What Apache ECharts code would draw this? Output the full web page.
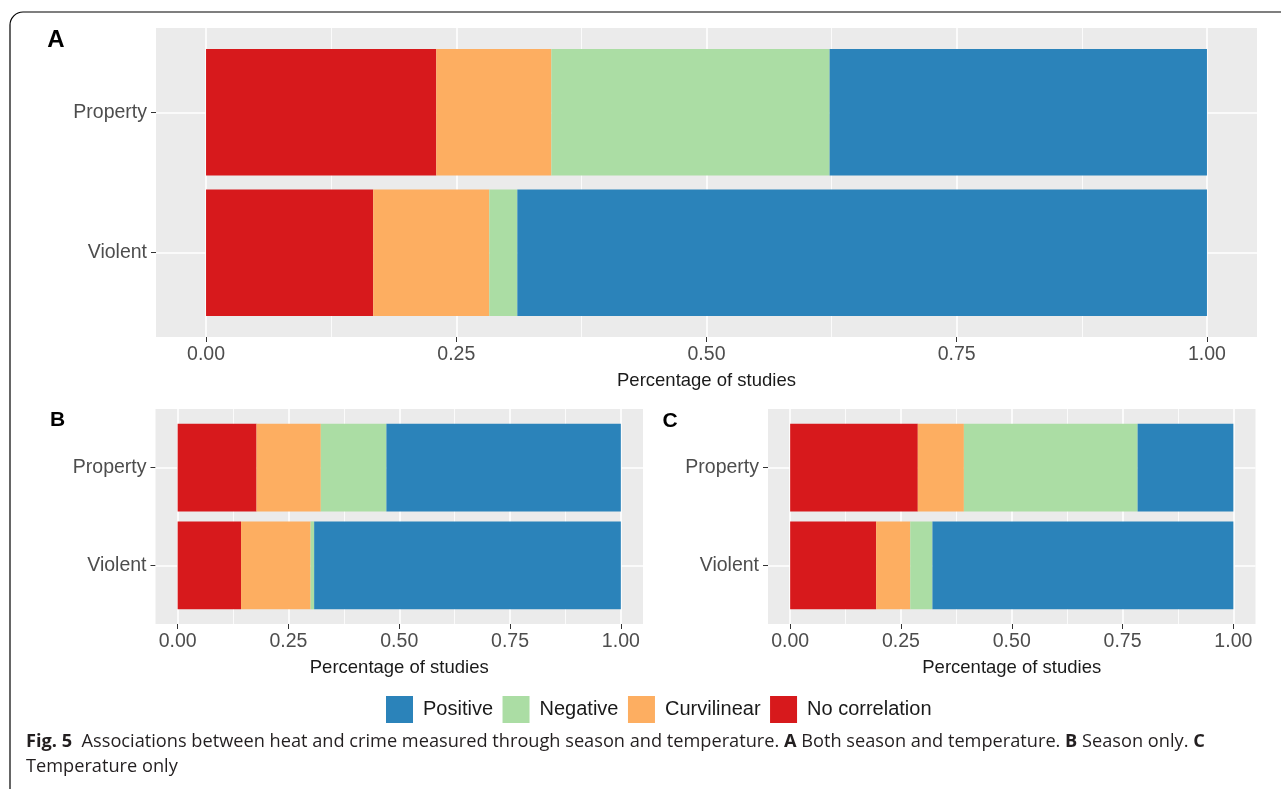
<!DOCTYPE html>
<html>
<head>
<meta charset="utf-8">
<script src="https://cdn.jsdelivr.net/npm/echarts@6/dist/echarts.min.js"></script>
<style>
  html, body { margin: 0; padding: 0; background: #fff; }
  #chart { width: 1281px; height: 789px; }
</style>
</head>
<body>
<div id="chart"></div>
<script>
// categories and series
var categories = ['Property', 'Violent'];
var seriesNames = ['No correlation', 'Curvilinear', 'Negative', 'Positive'];
var legendOrder = ['Positive', 'Negative', 'Curvilinear', 'No correlation'];
var majorTicks = [0, 0.25, 0.5, 0.75, 1];
var minorTicks = [0.125, 0.375, 0.625, 0.875];

// A: both season and temperature
var noCorrA = [0.230, 0.167];
var curvA   = [0.115, 0.116];
var negA    = [0.278, 0.028];
var posA    = [0.377, 0.689];
// B: season only
var noCorrB = [0.178, 0.143];
var curvB   = [0.145, 0.157];
var negB    = [0.148, 0.008];
var posB    = [0.529, 0.692];
// C: temperature only
var noCorrC = [0.288, 0.194];
var curvC   = [0.104, 0.077];
var negC    = [0.392, 0.050];
var posC    = [0.216, 0.679];

var colors = {
    'No correlation': '#D7191C',
    'Curvilinear': '#FDAE61',
    'Negative': '#ABDDA4',
    'Positive': '#2B83BA'
};

window.onload = function () {
    var chart = echarts.init(document.getElementById('chart'));
    var font = 'Liberation Sans, Arial, sans-serif';

    // gray panel boxes (ggplot style, with expansion around the data)
    var panels = [
        { left: 156, top: 28, width: 1101, height: 309, label: 'A', lx: 56, ly: 40, lsize: 24, data: [noCorrA, curvA, negA, posA] },
        { left: 155.5, top: 409, width: 487.5, height: 215, label: 'B', lx: 57.5, ly: 420.5, lsize: 21, data: [noCorrB, curvB, negB, posB] },
        { left: 768, top: 409, width: 487.5, height: 215, label: 'C', lx: 670, ly: 421, lsize: 21, data: [noCorrC, curvC, negC, posC] }
    ];

    var grids = [], xAxes = [], yAxes = [], series = [], graphics = [];

    // outer frame
    graphics.push({
        type: 'rect', z: -20, silent: true,
        shape: { x: 10, y: 12, width: 1320, height: 820, r: 13 },
        style: { fill: '#fff', stroke: '#000', lineWidth: 1.2 }
    });

    panels.forEach(function (p, i) {
        // discrete axis expansion: 0.6 units each side, 2 categories -> 2.2 units
        var pad = p.height * 0.1 / 2.2;
        grids.push({
            left: p.left, top: p.top + pad, width: p.width, height: p.height * 2 / 2.2,
            outerBoundsMode: 'none', containLabel: false
        });
        graphics.push({
            type: 'rect', z: -10, silent: true,
            shape: { x: p.left, y: p.top, width: p.width, height: p.height },
            style: { fill: '#EBEBEB' }
        });
        graphics.push({
            type: 'text', z: 10, silent: true,
            x: p.lx, y: p.ly,
            style: { text: p.label, font: 'bold ' + p.lsize + 'px ' + font, fill: '#000', align: 'center', verticalAlign: 'middle' }
        });
        graphics.push({
            type: 'text', z: 10, silent: true,
            x: p.left + p.width / 2, y: p.top + p.height + 44,
            style: { text: 'Percentage of studies', font: '18.5px ' + font, fill: '#1a1a1a', align: 'center', verticalAlign: 'middle' }
        });

        var base = { type: 'value', gridIndex: i, min: -0.05, max: 1.05, position: 'bottom', offset: pad,
                     axisLine: { show: false, onZero: false }, splitLine: { show: false } };
        // labels + small ticks
        xAxes.push(Object.assign({}, base, {
            axisTick: { show: true, length: 5, customValues: majorTicks, lineStyle: { color: '#333', width: 1 } },
            axisLabel: { show: true, customValues: majorTicks, margin: 8, color: '#4D4D4D', fontSize: 19.5, fontFamily: font,
                         formatter: function (v) { return v.toFixed(2); } }
        }));
        // major white grid lines
        xAxes.push(Object.assign({}, base, {
            axisTick: { show: true, inside: true, length: p.height, customValues: majorTicks, lineStyle: { color: '#fff', width: 1.6 } },
            axisLabel: { show: false }
        }));
        // minor white grid lines
        xAxes.push(Object.assign({}, base, {
            axisTick: { show: true, inside: true, length: p.height, customValues: minorTicks, lineStyle: { color: '#fff', width: 0.8 } },
            axisLabel: { show: false }
        }));

        yAxes.push({
            type: 'category', gridIndex: i, data: categories, inverse: true, position: 'left',
            axisLine: { show: false, onZero: false },
            axisTick: { show: true, alignWithLabel: true, length: 5, lineStyle: { color: '#333', width: 1 } },
            axisLabel: { margin: 9, color: '#4D4D4D', fontSize: 19.5, fontFamily: font },
            splitLine: { show: false }
        });
        yAxes.push({
            type: 'category', gridIndex: i, data: categories, inverse: true, position: 'left',
            axisLine: { show: false, onZero: false },
            axisTick: { show: true, inside: true, alignWithLabel: true, length: p.width, lineStyle: { color: '#fff', width: 1.6 } },
            axisLabel: { show: false },
            splitLine: { show: false }
        });

        seriesNames.forEach(function (name, k) {
            series.push({
                name: name,
                type: 'bar',
                stack: 'panel' + i,
                xAxisIndex: i * 3,
                yAxisIndex: i * 2,
                barWidth: '90%',
                itemStyle: { color: colors[name] },
                silent: true,
                data: p.data[k]
            });
        });
    });

    // caption
    graphics.push({
        type: 'text', z: 10, silent: true,
        x: 26, y: 729,
        style: {
            text: '{b|Fig. 5}  Associations between heat and crime measured through season and temperature. {b|A} Both season and temperature. {b|B} Season only. {b|C}\nTemperature only',
            font: '18.2px Open Sans, sans-serif',
            fill: '#231f20',
            lineHeight: 25,
            rich: {
                b: { fontWeight: 'bold', fontSize: 18.2, fontFamily: 'Open Sans, sans-serif', lineHeight: 25 }
            }
        }
    });

    var option = {
        animation: false,
        color: legendOrder.map(function (n) { return colors[n]; }),
        grid: grids,
        xAxis: xAxes,
        yAxis: yAxes,
        legend: {
            data: legendOrder,
            left: 386,
            top: 696,
            padding: 0,
            itemWidth: 27,
            itemHeight: 27,
            itemGap: 9.5,
            icon: 'rect',
            selectedMode: false,
            textStyle: { fontSize: 20, fontFamily: font, color: '#1a1a1a', padding: [0, 0, 0, 5] }
        },
        graphic: graphics,
        series: series
    };

    chart.setOption(option);
};
</script>
</body>
</html>
